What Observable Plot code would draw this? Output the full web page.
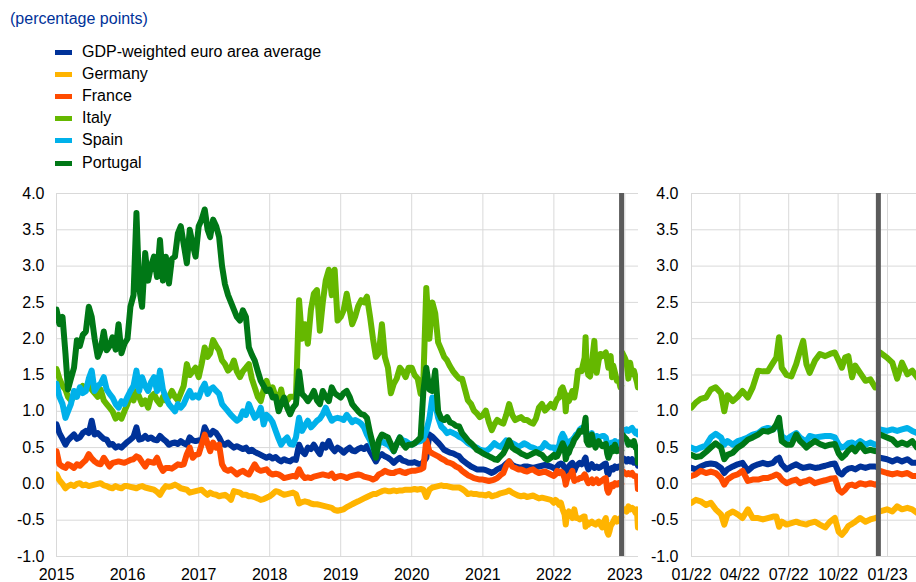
<!DOCTYPE html>
<html>
<head>
<meta charset="utf-8">
<script src="https://cdn.jsdelivr.net/npm/d3@7"></script>
<script src="https://cdn.jsdelivr.net/npm/@observablehq/plot@0.6"></script>
<style>
  html, body { margin: 0; padding: 0; background: #fff; }
  #chart { position: relative; width: 916px; height: 582px; overflow: hidden; background: #fff;
           font-family: "Liberation Sans", Arial, sans-serif; }
  #title { position: absolute; left: 10px; top: 10px; font-size: 16px; line-height: 18px; color: #003299; }
  .leg { position: absolute; left: 55px; height: 18px; font-size: 16px; line-height: 18px; color: #000; white-space: nowrap; }
  .leg .sw { position: absolute; left: 0; top: 7px; width: 17px; height: 5px; }
  .leg .lb { position: absolute; left: 27px; top: 0; }
  #left { position: absolute; left: 0; top: 180px; width: 650px; height: 402px; }
  #right { position: absolute; left: 640px; top: 180px; width: 276px; height: 402px; }
</style>
</head>
<body>
<div id="chart">
  <div id="title">(percentage points)</div>
  <div id="legend"></div>
  <div id="left"></div>
  <div id="right"></div>
</div>
<script>
// ---------- series names and colours ----------
const seriesNames = ["GDP-weighted euro area average", "Germany", "France", "Italy", "Spain", "Portugal"];
const seriesColors = ["#003299", "#FFB400", "#FF4B00", "#65B800", "#00B1EA", "#007816"];

// ---------- tick labels ----------
const leftTicks = ["2015-01-01","2016-01-01","2017-01-01","2018-01-01","2019-01-01","2020-01-01","2021-01-01","2022-01-01","2023-01-01"];
const rightTicks = ["2022-01-01","2022-04-01","2022-07-01","2022-10-01","2023-01-01"];
const yTicks = [-1.0, -0.5, 0.0, 0.5, 1.0, 1.5, 2.0, 2.5, 3.0, 3.5, 4.0];
const breakDate = "2022-12-15";

// ---------- 2015-2021: values on the 1st and 16th of each month ----------
const histStart = "2015-01-01";
const euroArea2015 = [
  0.82,0.70,0.62,0.54,0.60,0.64,0.68,0.62,0.64,0.70,0.73,0.70,0.87,0.68,0.70,0.66,0.62,0.61,0.54,0.55,0.50,0.52,0.50,0.54,
  0.58,0.61,0.65,0.78,0.61,0.62,0.66,0.62,0.64,0.61,0.60,0.66,0.62,0.59,0.54,0.56,0.57,0.55,0.59,0.56,0.54,0.64,0.60,0.59,
  0.60,0.59,0.78,0.70,0.68,0.73,0.70,0.64,0.56,0.54,0.57,0.53,0.50,0.52,0.50,0.48,0.50,0.45,0.47,0.44,0.42,0.40,0.38,0.36,
  0.38,0.35,0.37,0.33,0.31,0.34,0.32,0.31,0.34,0.33,0.54,0.45,0.41,0.50,0.48,0.54,0.47,0.41,0.54,0.50,0.59,0.50,0.45,0.50,
  0.47,0.43,0.47,0.50,0.46,0.45,0.48,0.50,0.48,0.52,0.45,0.38,0.31,0.38,0.41,0.38,0.36,0.33,0.29,0.33,0.36,0.32,0.31,0.29,
  0.29,0.30,0.28,0.27,0.30,0.36,0.68,0.65,0.61,0.57,0.52,0.47,0.45,0.43,0.42,0.40,0.38,0.33,0.30,0.27,0.24,0.22,0.20,0.20,
  0.20,0.19,0.17,0.15,0.17,0.20,0.22,0.24,0.28,0.31,0.26,0.24,0.23,0.22,0.24,0.24,0.23,0.22,0.23,0.24,0.25,0.26,0.25,0.24
];
const germany2015 = [
  0.13,0.05,0.00,-0.06,-0.03,-0.01,-0.03,0.00,0.01,-0.02,-0.01,-0.03,-0.02,-0.01,0.00,0.01,-0.02,-0.03,-0.05,-0.06,-0.03,-0.05,-0.06,-0.03,
  -0.03,-0.04,-0.05,-0.06,-0.04,-0.03,-0.05,-0.06,-0.07,-0.08,-0.11,-0.15,-0.08,-0.03,-0.04,-0.03,-0.01,-0.03,-0.06,-0.07,-0.08,-0.12,-0.11,-0.10,
  -0.09,-0.08,-0.12,-0.15,-0.12,-0.14,-0.15,-0.17,-0.16,-0.15,-0.18,-0.22,-0.10,-0.11,-0.12,-0.15,-0.15,-0.17,-0.17,-0.18,-0.20,-0.22,-0.21,-0.19,
  -0.17,-0.14,-0.10,-0.11,-0.13,-0.15,-0.14,-0.13,-0.12,-0.14,-0.27,-0.25,-0.24,-0.25,-0.27,-0.28,-0.28,-0.29,-0.30,-0.31,-0.32,-0.33,-0.36,-0.37,
  -0.36,-0.35,-0.32,-0.30,-0.28,-0.26,-0.24,-0.22,-0.20,-0.18,-0.16,-0.14,-0.14,-0.12,-0.10,-0.09,-0.10,-0.10,-0.09,-0.10,-0.09,-0.09,-0.08,-0.08,
  -0.08,-0.07,-0.08,-0.07,-0.08,-0.18,-0.08,-0.05,-0.04,-0.03,-0.02,-0.03,-0.03,-0.04,-0.05,-0.05,-0.05,-0.07,-0.10,-0.14,-0.13,-0.14,-0.14,-0.15,
  -0.15,-0.16,-0.14,-0.17,-0.16,-0.15,-0.13,-0.12,-0.11,-0.09,-0.12,-0.14,-0.16,-0.17,-0.16,-0.18,-0.17,-0.16,-0.18,-0.20,-0.19,-0.20,-0.21,-0.22
];
const france2015 = [
  0.45,0.27,0.24,0.22,0.27,0.25,0.22,0.27,0.25,0.29,0.33,0.41,0.35,0.31,0.28,0.27,0.36,0.30,0.24,0.29,0.30,0.31,0.30,0.29,
  0.31,0.33,0.34,0.38,0.36,0.30,0.24,0.31,0.30,0.29,0.36,0.25,0.18,0.22,0.22,0.21,0.24,0.27,0.26,0.27,0.41,0.50,0.36,0.40,
  0.41,0.54,0.68,0.55,0.45,0.57,0.50,0.54,0.27,0.20,0.18,0.20,0.17,0.13,0.16,0.18,0.15,0.13,0.20,0.27,0.20,0.18,0.19,0.20,
  0.15,0.13,0.14,0.13,0.11,0.08,0.09,0.10,0.11,0.10,0.20,0.12,0.08,0.09,0.08,0.10,0.11,0.12,0.13,0.12,0.11,0.14,0.08,0.10,
  0.11,0.10,0.08,0.10,0.11,0.12,0.13,0.12,0.10,0.09,0.08,0.06,0.08,0.13,0.15,0.18,0.16,0.15,0.15,0.17,0.18,0.16,0.15,0.17,
  0.18,0.18,0.19,0.20,0.22,0.60,0.45,0.42,0.40,0.38,0.35,0.33,0.30,0.29,0.27,0.24,0.22,0.18,0.15,0.12,0.10,0.08,0.07,0.06,
  0.06,0.05,0.04,0.05,0.06,0.08,0.12,0.15,0.25,0.31,0.24,0.22,0.20,0.20,0.18,0.17,0.19,0.20,0.17,0.15,0.16,0.17,0.15,0.13
];
const italy2015 = [
  1.58,1.45,1.35,1.30,1.20,1.15,1.20,1.25,1.30,1.35,1.30,1.40,1.30,1.25,1.20,1.30,1.15,1.10,1.05,1.00,0.90,0.95,0.90,1.00,
  1.10,1.25,1.15,1.28,1.20,1.10,1.15,1.05,1.20,1.24,1.15,1.10,1.20,1.15,1.20,1.28,1.20,1.15,1.25,1.35,1.65,1.50,1.55,1.60,
  1.47,1.65,1.88,1.75,1.80,1.98,1.90,1.84,1.70,1.65,1.56,1.60,1.70,1.55,1.47,1.55,1.60,1.65,1.45,1.33,1.20,1.14,1.30,1.42,
  1.28,1.33,1.20,1.15,1.30,1.10,1.15,1.20,1.20,1.20,2.53,2.00,2.20,1.93,2.40,2.62,2.67,2.11,2.50,2.80,2.95,2.60,2.95,2.25,
  2.30,2.39,2.62,2.40,2.20,2.30,2.45,2.53,2.50,2.58,2.30,2.00,1.75,1.80,2.20,1.75,1.60,1.25,1.38,1.45,1.60,1.55,1.47,1.60,
  1.60,1.50,1.45,1.24,1.42,2.70,2.00,2.50,2.35,1.95,1.85,1.75,1.70,1.62,1.55,1.50,1.45,1.45,1.30,1.15,1.10,1.01,0.97,0.92,
  0.95,1.01,0.85,0.74,0.82,0.88,0.85,0.83,0.95,1.10,0.95,0.88,0.90,0.92,0.88,0.88,0.85,0.83,0.90,1.05,1.10,1.01,1.05,1.10
];
const spain2015 = [
  1.38,1.20,1.10,0.91,1.00,1.10,1.28,1.20,1.33,1.25,1.28,1.45,1.56,1.28,1.35,1.38,1.47,1.30,1.24,1.19,1.10,1.05,1.14,1.10,
  1.20,1.28,1.35,1.56,1.28,1.47,1.35,1.28,1.40,1.47,1.28,1.56,1.30,1.19,1.10,1.05,1.00,1.10,1.05,1.10,1.20,1.28,1.19,1.22,
  1.19,1.30,1.38,1.24,1.30,1.33,1.28,1.24,1.10,1.05,1.00,0.95,0.91,0.87,0.90,1.00,0.95,1.10,1.00,0.91,0.95,1.05,0.82,0.95,
  0.91,0.85,0.73,0.62,0.54,0.60,0.64,0.55,0.54,0.64,0.91,0.73,0.80,0.87,0.78,0.82,0.87,0.90,0.96,1.05,0.95,0.87,0.90,0.91,
  0.90,0.88,0.95,0.90,0.85,0.88,0.86,0.83,0.78,0.68,0.60,0.50,0.41,0.55,0.59,0.56,0.54,0.50,0.45,0.55,0.64,0.60,0.59,0.56,
  0.54,0.56,0.58,0.59,0.62,0.73,0.90,1.19,1.10,0.91,0.79,0.75,0.70,0.72,0.70,0.68,0.65,0.63,0.60,0.56,0.54,0.51,0.50,0.47,
  0.46,0.45,0.48,0.52,0.56,0.53,0.51,0.55,0.60,0.58,0.56,0.54,0.51,0.53,0.56,0.54,0.51,0.50,0.48,0.47,0.50,0.56,0.52,0.50
];
const portugal2015 = [
  2.40,2.20,2.30,1.80,1.30,1.45,1.60,1.98,1.90,2.05,2.10,2.44,2.30,2.00,1.75,1.85,2.10,1.84,1.90,2.02,1.85,2.20,1.80,1.93,
  2.00,2.44,2.60,3.73,2.70,2.44,3.18,2.80,3.00,3.13,2.85,3.36,2.80,3.13,2.76,3.10,3.13,3.45,3.55,3.30,3.04,3.50,3.30,3.13,
  3.55,3.64,3.78,3.50,3.40,3.64,3.55,3.40,3.00,2.75,2.60,2.50,2.40,2.30,2.25,2.39,2.30,1.88,1.78,1.70,1.55,1.42,1.35,1.28,
  1.30,1.19,1.20,1.00,1.10,1.19,1.05,0.96,1.05,1.10,1.55,1.24,1.20,1.14,1.20,1.28,1.15,1.10,1.28,1.20,1.14,1.33,1.25,1.22,
  1.19,1.25,1.28,1.20,1.10,1.05,1.00,0.96,0.95,0.91,0.70,0.54,0.36,0.60,0.68,0.66,0.64,0.55,0.45,0.55,0.64,0.55,0.50,0.54,
  0.54,0.56,0.60,0.64,1.28,1.60,1.30,1.28,1.56,1.00,0.90,0.88,0.92,0.85,0.83,0.80,0.79,0.70,0.65,0.60,0.56,0.52,0.47,0.45,
  0.42,0.40,0.38,0.36,0.34,0.33,0.38,0.42,0.50,0.60,0.50,0.47,0.45,0.42,0.40,0.38,0.40,0.42,0.44,0.42,0.40,0.35,0.33,0.36
];

// ---------- 2022 onwards (null = break on 15 Dec 2022) ----------
const recentDates = [
  "2022-01-01","2022-01-09","2022-01-18","2022-01-28","2022-02-06","2022-02-15","2022-02-25","2022-03-03","2022-03-09","2022-03-19",
  "2022-03-28","2022-04-06","2022-04-16","2022-04-25","2022-05-05","2022-05-14","2022-05-23","2022-06-02","2022-06-08","2022-06-13",
  "2022-06-18","2022-06-27","2022-07-06","2022-07-15","2022-07-22","2022-07-28","2022-08-03","2022-08-09","2022-08-19","2022-08-28",
  "2022-09-07","2022-09-16","2022-09-25","2022-10-02","2022-10-08","2022-10-14","2022-10-20","2022-10-27","2022-11-02","2022-11-11",
  "2022-11-21","2022-11-30","2022-12-09","2022-12-13","2022-12-15","2022-12-18","2022-12-31","2023-01-10","2023-01-19","2023-01-28",
  "2023-02-07","2023-02-16","2023-02-25","2023-03-04","2023-03-09"
];
const euroArea2022 = [0.22,0.20,0.24,0.27,0.28,0.27,0.22,0.15,0.20,0.24,0.27,0.29,0.18,0.24,0.27,0.29,0.27,0.29,0.34,0.36,0.27,0.20,0.24,0.27,0.24,0.22,0.23,0.24,0.22,0.23,0.25,0.27,0.28,0.16,0.13,0.18,0.21,0.22,0.20,0.24,0.22,0.24,0.24,0.23,null,0.36,0.34,0.31,0.34,0.31,0.34,0.29,0.29,0.30,0.25];
const germany2022 = [-0.26,-0.22,-0.24,-0.29,-0.26,-0.35,-0.42,-0.56,-0.42,-0.38,-0.42,-0.47,-0.35,-0.47,-0.47,-0.49,-0.47,-0.45,-0.45,-0.59,-0.52,-0.56,-0.54,-0.52,-0.54,-0.55,-0.56,-0.54,-0.52,-0.56,-0.60,-0.52,-0.47,-0.66,-0.70,-0.65,-0.58,-0.55,-0.52,-0.47,-0.52,-0.49,-0.47,-0.46,null,-0.38,-0.35,-0.38,-0.31,-0.35,-0.33,-0.35,-0.40,-0.35,-0.60];
const france2022 = [0.11,0.13,0.18,0.15,0.17,0.15,0.08,-0.01,0.06,0.11,0.13,0.18,0.04,0.06,0.06,0.08,0.08,0.11,0.13,0.11,0.06,0.01,0.04,0.06,0.01,0.03,0.04,0.06,0.01,0.03,0.05,0.07,0.08,-0.08,-0.12,-0.08,-0.02,-0.01,-0.03,0.01,-0.01,0.01,-0.01,0.00,null,0.18,0.15,0.13,0.15,0.13,0.15,0.11,0.11,0.10,-0.07];
const italy2022 = [1.05,1.12,1.17,1.19,1.30,1.33,1.25,1.00,1.22,1.14,1.20,1.28,1.19,1.33,1.56,1.55,1.55,1.67,1.74,2.02,1.60,1.50,1.48,1.65,1.83,1.97,1.65,1.53,1.70,1.79,1.76,1.79,1.81,1.70,1.60,1.74,1.76,1.47,1.63,1.53,1.42,1.44,1.33,1.35,null,1.81,1.74,1.67,1.45,1.67,1.51,1.56,1.47,1.40,1.33];
const spain2022 = [0.50,0.47,0.50,0.53,0.64,0.69,0.64,0.54,0.59,0.54,0.59,0.61,0.64,0.68,0.70,0.75,0.77,0.75,0.80,0.82,0.66,0.61,0.66,0.70,0.64,0.61,0.59,0.66,0.64,0.65,0.66,0.66,0.64,0.54,0.50,0.52,0.56,0.57,0.54,0.59,0.54,0.57,0.54,0.55,null,0.75,0.73,0.75,0.73,0.75,0.77,0.73,0.70,0.72,0.68];
const portugal2022 = [0.40,0.37,0.38,0.44,0.50,0.56,0.50,0.34,0.40,0.43,0.50,0.54,0.61,0.64,0.68,0.73,0.72,0.75,0.82,0.91,0.59,0.54,0.54,0.68,0.59,0.55,0.50,0.54,0.59,0.55,0.52,0.54,0.55,0.42,0.36,0.40,0.46,0.50,0.45,0.54,0.45,0.47,0.45,0.46,null,0.68,0.64,0.61,0.54,0.57,0.54,0.59,0.50,0.48,0.29];

// ---------- build tidy rows ----------
const hist = [euroArea2015, germany2015, france2015, italy2015, spain2015, portugal2015];
const recent = [euroArea2022, germany2022, france2022, italy2022, spain2022, portugal2022];
const start = new Date(histStart);
function histDate(k) {
  return new Date(Date.UTC(start.getUTCFullYear(), start.getUTCMonth() + Math.floor(k / 2), k % 2 ? 16 : 1));
}
const rows = seriesNames.map((name, i) => {
  const a = hist[i].map((v, k) => ({date: histDate(k), value: v}));
  const b = recent[i].map((v, k) => ({date: new Date(recentDates[k]), value: v}));
  return a.concat(b);
});

// ---------- legend ----------
const legend = document.getElementById("legend");
seriesNames.forEach((name, i) => {
  const row = document.createElement("div");
  row.className = "leg";
  row.style.top = (43 + i * 22.1) + "px";
  row.innerHTML = `<span class="sw" style="background:${seriesColors[i]}"></span><span class="lb">${name}</span>`;
  legend.appendChild(row);
});

// ---------- panels ----------
const fmt = d => d.toFixed(1);
function panel({width, marginLeft, marginRight, domain, ticks, tickFormat, filterFrom, tickPaddingY}) {
  const tickDates = ticks.map(t => new Date(t));
  const marks = [
    Plot.gridY(yTicks, {stroke: "#d9d9d9", strokeOpacity: 1, strokeWidth: 1}),
    Plot.gridX(tickDates, {stroke: "#d9d9d9", strokeOpacity: 1, strokeWidth: 1}),
    Plot.axisY(yTicks, {tickSize: 0, tickPadding: tickPaddingY, tickFormat: fmt, fill: "#000", label: null}),
    Plot.axisX(tickDates, {tickSize: 0, tickPadding: 12, tickFormat, fill: "#000", label: null})
  ];
  rows.forEach((data, i) => {
    const d = filterFrom ? data.filter(r => r.date >= filterFrom) : data;
    marks.push(Plot.line(d, {x: "date", y: "value", stroke: seriesColors[i], strokeWidth: 6,
      strokeLinejoin: "round", clip: true}));
  });
  marks.push(Plot.ruleX([new Date(breakDate)], {y1: -1, y2: 4, stroke: "#5b5b5b", strokeWidth: 5}));
  return Plot.plot({
    width, height: 402,
    marginTop: 13, marginBottom: 26, marginLeft, marginRight,
    x: {type: "utc", domain: domain.map(d => new Date(d)), label: null},
    y: {domain: [-1, 4], label: null},
    style: {fontSize: "16px", fontFamily: "'Liberation Sans', Arial, sans-serif", background: "transparent", overflow: "visible", color: "#000"},
    marks
  });
}

document.getElementById("left").appendChild(panel({
  width: 650, marginLeft: 56, marginRight: 12,
  domain: ["2015-01-01", "2023-03-12"], ticks: leftTicks,
  tickFormat: d3.utcFormat("%Y"), tickPaddingY: 12
}));
document.getElementById("right").appendChild(panel({
  width: 276, marginLeft: 51, marginRight: 0,
  domain: ["2022-01-01", "2023-02-24"], ticks: rightTicks,
  tickFormat: d3.utcFormat("%m/%y"), filterFrom: new Date("2022-01-01"), tickPaddingY: 13
}));
</script>
</body>
</html>
